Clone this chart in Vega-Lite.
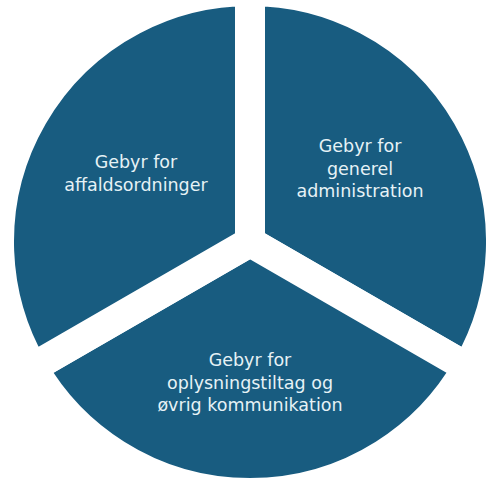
{
  "$schema": "https://vega.github.io/schema/vega-lite/v6.json",
  "autosize": {"type": "fit", "contains": "padding"},
  "width": 486,
  "height": 479,
  "padding": {"left": 14, "top": 5, "right": 0, "bottom": 0},
  "background": "white",
  "view": {"stroke": null},
  "data": {
    "values": [
      {"rank": 1, "share": 1, "label": "Gebyr for\ngenerel\nadministration"},
      {"rank": 2, "share": 1, "label": "Gebyr for\noplysningstiltag og\nøvrig kommunikation"},
      {"rank": 3, "share": 1, "label": "Gebyr for\naffaldsordninger"}
    ]
  },
  "encoding": {
    "theta": {"field": "share", "type": "quantitative", "stack": true},
    "detail": {"field": "label"},
    "order": {"field": "rank", "type": "quantitative"}
  },
  "layer": [
    {
      "mark": {"type": "arc", "outerRadius": 251, "fill": "#185c80", "stroke": "white", "strokeWidth": 30, "strokeJoin": "miter"}
    },
    {
      "mark": {"type": "text", "radius": 137, "dx": -8.6, "dy": -26.5, "fill": "#e6f2f6", "font": "DejaVu Sans", "fontSize": 17.5, "lineBreak": "\n", "lineHeight": 22.5, "align": "center", "baseline": "middle"},
      "encoding": {"text": {"condition": {"test": "datum.rank == 1", "field": "label"}, "value": ""}}
    },
    {
      "mark": {"type": "text", "radius": 137, "dy": -18, "fill": "#e6f2f6", "font": "DejaVu Sans", "fontSize": 17.5, "lineBreak": "\n", "lineHeight": 22.5, "align": "center", "baseline": "middle"},
      "encoding": {"text": {"condition": {"test": "datum.rank == 2", "field": "label"}, "value": ""}}
    },
    {
      "mark": {"type": "text", "radius": 137, "dx": 4.6, "dy": -10.5, "fill": "#e6f2f6", "font": "DejaVu Sans", "fontSize": 17.5, "lineBreak": "\n", "lineHeight": 22.5, "align": "center", "baseline": "middle"},
      "encoding": {"text": {"condition": {"test": "datum.rank == 3", "field": "label"}, "value": ""}}
    }
  ]
}
